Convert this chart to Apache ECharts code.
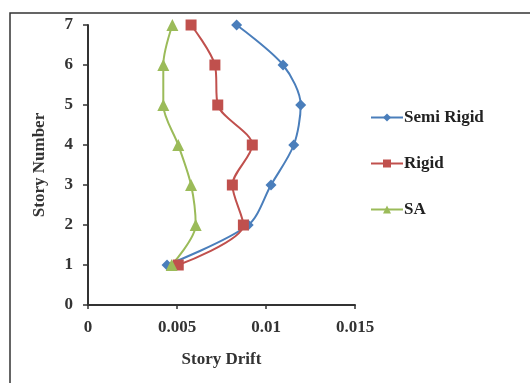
<!DOCTYPE html>
<html><head><meta charset="utf-8">
<script src="https://cdn.jsdelivr.net/npm/echarts@6/dist/echarts.min.js"></script>
<style>html,body{margin:0;padding:0;background:#fff}#c{width:530px;height:383px}</style>
</head><body><div id="c"></div>
<script>
const stories = [1, 2, 3, 4, 5, 6, 7];
const semiRigid = [0.00444, 0.0090, 0.01028, 0.01156, 0.01195, 0.01096, 0.00835];
const rigid = [0.00507, 0.00873, 0.00811, 0.00923, 0.00729, 0.00713, 0.00579];
const sa = [0.0047, 0.00605, 0.00579, 0.00507, 0.00423, 0.00423, 0.00474];
const xTicks = [0, 0.005, 0.01, 0.015];

const font = '"Liberation Serif", "Times New Roman", serif';
const toPts = arr => arr.map((v, i) => [v, stories[i]]);
const chart = echarts.init(document.getElementById('c'));
function mk(name, data, color, symbol, size) {
  return {
    name, type: 'line', data: toPts(data), smooth: 0.3,
    symbol, symbolSize: size,
    lineStyle: { color, width: 2 },
    itemStyle: { color },
    z: 3
  };
}
chart.setOption({
  animation: false,
  graphic: [{
    type: 'rect', shape: { x: 10, y: 13, width: 540, height: 400 },
    style: { fill: 'none', stroke: '#333', lineWidth: 1.5 }, silent: true
  }],
  grid: { left: 88, top: 25, right: 175, bottom: 78, containLabel: false },
  legend: {
    orient: 'vertical', left: 365, top: 104, itemGap: 29,
    itemWidth: 32, itemHeight: 10,
    textStyle: { fontFamily: font, fontWeight: 'bold', fontSize: 17, color: '#222', padding: [0,0,0,-4] },
    data: ['Semi Rigid', 'Rigid', 'SA']
  },
  xAxis: {
    type: 'value', min: 0, max: 0.015, interval: 0.005,
    name: 'Story Drift', nameLocation: 'middle', nameGap: 46,
    nameTextStyle: { fontFamily: font, fontWeight: 'bold', fontSize: 17, color: '#333' },
    axisLine: { show: true, lineStyle: { color: '#333', width: 2 } },
    axisTick: { show: true, length: 4, lineStyle: { color: '#333', width: 1.5 } },
    splitLine: { show: false },
    axisLabel: { fontFamily: font, fontWeight: 'bold', fontSize: 17, color: '#333', margin: 14,
      formatter: v => { const t = xTicks.find(x => Math.abs(x - v) < 1e-9); return t === undefined ? '' : String(t); } }
  },
  yAxis: {
    type: 'value', min: 0, max: 7, interval: 1,
    name: 'Story Number', nameLocation: 'middle', nameGap: 40,
    nameTextStyle: { fontFamily: font, fontWeight: 'bold', fontSize: 17, color: '#333' },
    axisLine: { show: true, lineStyle: { color: '#333', width: 2 } },
    axisTick: { show: true, length: 5, lineStyle: { color: '#333', width: 1.5 } },
    splitLine: { show: false },
    axisLabel: { fontFamily: font, fontWeight: 'bold', fontSize: 17, color: '#333', margin: 15 }
  },
  series: [
    mk('Semi Rigid', semiRigid, '#4a7ebb', 'diamond', 11),
    mk('Rigid', rigid, '#c0504d', 'rect', 11),
    mk('SA', sa, '#9bbb59', 'triangle', 12)
  ]
});
</script></body></html>
